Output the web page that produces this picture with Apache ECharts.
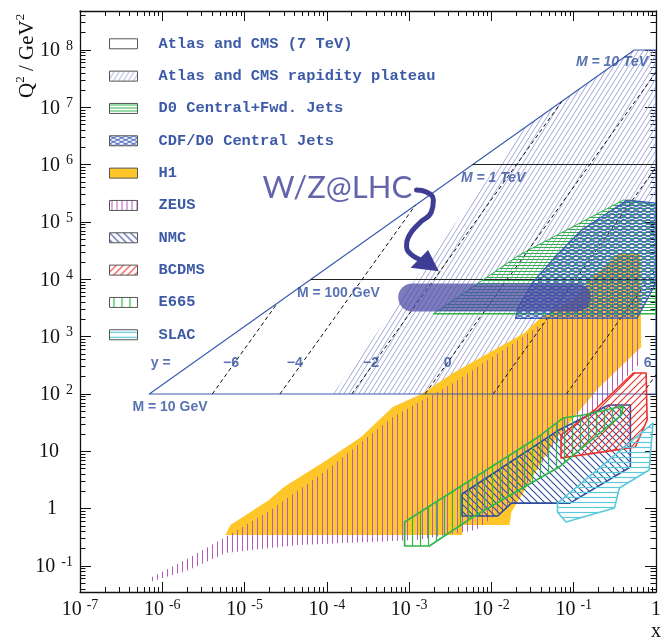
<!DOCTYPE html>
<html><head><meta charset="utf-8">
<script src="https://cdn.jsdelivr.net/npm/echarts@6/dist/echarts.min.js"></script>
<style>html,body{margin:0;padding:0;background:#fff}#c{width:664px;height:639px}</style>
</head><body><div id="c"></div>
<script>
// ---------------- data (x, Q^2 / GeV^2) ----------------
const xTicks = [1e-7, 1e-6, 1e-5, 1e-4, 1e-3, 1e-2, 1e-1, 1];
const yTicks = [1e-1, 1, 10, 1e2, 1e3, 1e4, 1e5, 1e6, 1e7, 1e8];
const xRange = [1e-7, 1];
const yRange = [0.0352, 4.79e8];

const legendNames = ['Atlas and CMS (7 TeV)', 'Atlas and CMS rapidity plateau', 'D0 Central+Fwd. Jets',
  'CDF/D0 Central Jets', 'H1', 'ZEUS', 'NMC', 'BCDMS', 'E665', 'SLAC'];

const atlasRegion = [[6.95e-7, 100], [0.544, 1e8], [1, 1e8], [1, 100]];
const plateauRegion = [[1.19e-4, 100], [0.0247, 4.29e6], [0.544, 1e8], [1, 1e8], [1, 3.25e5], [0.0175, 100]];
const massLines = [[[6.41e-5, 1e4], [1, 1e4]], [[5.9e-3, 1e6], [1, 1e6]]];
const rapidityLines = [
  [[4.05e-6, 100], [2.51e-5, 3855]],
  [[2.69e-5, 100], [1.19e-3, 1.96e5]],
  [[2.01e-4, 100], [0.0715, 1.26e7]],
  [[1.56e-3, 100], [1, 4.1e7]],
  [[0.0105, 100], [1, 9.0e5]],
  [[0.0815, 100], [1, 1.51e4]],
  [[0.679, 100], [1, 217]]
];
const d0Region = [[1.97e-3, 2480], [0.0213, 2.6e4], [0.401, 2.42e5], [1, 1.98e5], [1, 2480]];
const cdfRegion = [[1.96e-2, 2090], [2.13e-2, 3290], [3.14e-2, 8630], [5.93e-2, 24500], [0.125, 72400],
  [0.258, 1.44e5], [0.448, 2.42e5], [1, 2.14e5], [1, 8630], [0.591, 2110]];
const h1Region = [[5.86e-6, 0.347], [6.73e-6, 0.519], [1.98e-5, 1.42], [3.01e-5, 2.39], [1e-4, 7.05],
  [2.61e-4, 17.8], [6.32e-4, 59.3], [1.41e-3, 100], [3.43e-3, 232], [9.27e-3, 519], [2.51e-2, 1160],
  [3.71e-2, 1950], [0.103, 4720], [0.180, 11900], [0.359, 28800], [0.643, 28800], [0.661, 661],
  [0.201, 127], [0.0593, 15.7], [0.0175, 0.873], [0.0166, 0.519], [4.40e-3, 0.519], [4.40e-3, 0.347]];
const zeusRegion = [[7.14e-7, 0.0617], [2.10e-6, 0.138], [5.86e-6, 0.320], [1.98e-5, 0.91], [1e-4, 4.72],
  [6.32e-4, 39.6], [3.43e-3, 156], [2.51e-2, 1030], [0.103, 4360], [0.180, 10500], [0.359, 26500],
  [0.643, 26500], [0.661, 361], [0.180, 52.6], [0.0593, 12.9], [0.0196, 1.42], [6.47e-3, 0.424],
  [1.23e-3, 0.284], [4.43e-5, 0.232], [5.86e-6, 0.168], [2.10e-6, 0.0851], [7.14e-7, 0.0525]];
const nmcRegion = [[4.40e-3, 1.80], [0.0664, 23.6], [0.265, 64.3], [0.488, 64.3], [0.488, 5.32],
  [0.0899, 1.25], [0.0175, 1.25], [0.0119, 0.745], [4.40e-3, 0.745]];
const bcdmsRegion = [[0.0701, 19.3], [0.180, 52.6], [0.530, 232], [0.759, 232], [0.780, 35.2],
  [0.560, 11.9], [0.265, 10.1], [0.0701, 7.64]];
const e665Region = [[8.81e-4, 0.585], [0.0371, 17.8], [0.0741, 38.1], [0.132, 43.0], [0.401, 61.7],
  [0.379, 43.0], [0.0664, 5.32], [0.0251, 2.39], [5.96e-3, 0.715], [1.76e-3, 0.223], [8.81e-4, 0.223]];
const slacRegion = [[0.0635, 1.25], [0.920, 31.2], [0.824, 4.72], [0.359, 2.29], [0.313, 1.03],
  [0.0805, 0.585], [0.0635, 0.873]];
const wzBand = [[1.09e-3, 4820], [0.109, 4820]];
const arrowPath = [[1.23e-3, 3.61e5], [1.62e-3, 3.33e5], [1.97e-3, 2.42e5], [1.86e-3, 1.49e5],
  [1.34e-3, 9.60e4], [1.01e-3, 5.93e4], [9.31e-4, 3.66e4], [1.34e-3, 2.22e4]];
const arrowHead = [[2.30e-3, 1.38e4], [1.04e-3, 1.60e4], [1.70e-3, 3.25e4]];
const massLabelText = ['M = 10 GeV', 'M = 100 GeV', 'M = 1 TeV', 'M = 10 TeV'];
const massLabelPos = [[1.24e-6, 59.3], [1.38e-4, 5770], [1.05e-2, 5.85e5], [0.292, 6.05e7]];
const rapidityLabelText = ['y =', '\u22126', '\u22124', '\u22122', '0', '6'];
const rapidityLabelPos = [[9.55e-7, 347], [6.83e-6, 347], [4.07e-5, 347], [3.44e-4, 347], [2.94e-3, 347], [0.791, 347]];
const wzLabelText = 'W/Z@LHC';
const wzLabelPos = [1.34e-4, 3.85e5];

// ---------------- styling helpers ----------------
const serif = '"Liberation Serif", "Times New Roman", serif';
const mono = '"Liberation Mono", "DejaVu Sans Mono", monospace';
const sans = '"Liberation Sans", Arial, sans-serif';
const labelBlue = '#2f4f9f';

function hatchTile(w, h, color, lw, dirs) {
  const c = document.createElement('canvas');
  c.width = w; c.height = h;
  const g = c.getContext('2d');
  g.strokeStyle = color; g.lineWidth = lw;
  for (const d of dirs) {
    g.beginPath();
    if (d === 'h') { const y = Math.floor(h / 2) + 0.5; g.moveTo(-1, y); g.lineTo(w + 1, y); }
    if (d === 'v') { const x = Math.floor(w / 2) + 0.5; g.moveTo(x, -1); g.lineTo(x, h + 1); }
    if (d === 'down') { for (const dx of [-w, 0, w]) { g.moveTo(dx - w, -h); g.lineTo(dx + 2 * w, 2 * h); } }
    if (d === 'up') { for (const dx of [-w, 0, w]) { g.moveTo(dx - w, 2 * h); g.lineTo(dx + 2 * w, -h); } }
    g.stroke();
  }
  return { image: c, repeat: 'repeat' };
}

const pat = {
  plateau: hatchTile(5, 8, '#a3a6d8', 1, ['up']),
  d0: hatchTile(8, 3, '#33b24c', 1, ['h']),
  cdf: hatchTile(8, 4, '#3659b3', 1, ['up', 'down']),
  zeus: hatchTile(5, 8, '#b45cbe', 1, ['v']),
  nmc: hatchTile(7, 7, '#2f4c9c', 1.1, ['down']),
  bcdms: hatchTile(7, 7, '#e8322c', 1.1, ['up']),
  e665: hatchTile(8, 8, '#2fb64a', 1.2, ['v']),
  slac: hatchTile(8, 5, '#5cc8dc', 1.2, ['h'])
};
const h1Color = '#ffc629';

function regionSeries(name, points, opts, z) {
  return {
    type: 'custom', name, coordinateSystem: 'cartesian2d', xAxisIndex: 0, yAxisIndex: 0,
    data: points, z, silent: true, clip: true,
    renderItem: (params, api) => {
      if (params.dataIndex !== 0) return null;
      const pts = points.map(p => api.coord(p));
      const children = (opts.fills || []).map(f => ({ type: 'polygon', shape: { points: pts }, style: { fill: f, stroke: null } }));
      if (opts.stroke) children.push({ type: 'polygon', shape: { points: pts }, style: { fill: null, stroke: opts.stroke, lineWidth: opts.lineWidth || 1, lineJoin: 'round' } });
      return { type: 'group', children };
    }
  };
}

// minor log ticks
function minorTicks(lo, hi) {
  const out = [];
  for (let k = Math.floor(Math.log10(lo)); k <= Math.ceil(Math.log10(hi)); k++)
    for (let m = 2; m <= 9; m++) { const v = m * Math.pow(10, k); if (v > lo && v < hi) out.push(v); }
  return out;
}
const xMinor = minorTicks(xRange[0], xRange[1]);
const yMinor = minorTicks(yRange[0], yRange[1]);

const expOf = v => Math.round(Math.log10(v));
const baseAxis = (extra) => Object.assign({
  type: 'log', logBase: 10, silent: true,
  splitLine: { show: false }, axisLabel: { show: false }, axisLine: { show: false, onZero: false },
  axisTick: { show: false }
}, extra);
const frameLine = { show: true, onZero: false, lineStyle: { color: '#111', width: 1.3 } };
const tickStyle = { color: '#111', width: 1 };

const xAxes = [
  baseAxis({ min: xRange[0], max: xRange[1], position: 'bottom', axisLine: frameLine,
    axisTick: { show: true, inside: true, length: 10, customValues: xTicks, lineStyle: tickStyle },
    axisLabel: { show: true, customValues: xTicks, margin: 6, hideOverlap: false, showMinLabel: true, showMaxLabel: true,
      formatter: v => { const e = expOf(v); return e === 0 ? '{n|1}' : '{n|10}{e|' + e + '}'; },
      rich: {
        n: { fontFamily: serif, fontSize: 20, lineHeight: 22, padding: [8, 0, 0, 0], verticalAlign: 'bottom', color: '#111' },
        e: { fontFamily: serif, fontSize: 14, lineHeight: 14, verticalAlign: 'top', padding: [0, 0, 0, 5], color: '#111' }
      } } }),
  baseAxis({ min: xRange[0], max: xRange[1], position: 'bottom',
    axisTick: { show: true, inside: true, length: 5, customValues: xMinor, lineStyle: tickStyle } }),
  baseAxis({ min: xRange[0], max: xRange[1], position: 'top', axisLine: frameLine,
    axisTick: { show: true, inside: true, length: 10, customValues: xTicks, lineStyle: tickStyle } }),
  baseAxis({ min: xRange[0], max: xRange[1], position: 'top',
    axisTick: { show: true, inside: true, length: 5, customValues: xMinor, lineStyle: tickStyle } })
];
const yAxes = [
  baseAxis({ min: yRange[0], max: yRange[1], position: 'left', axisLine: frameLine,
    axisTick: { show: true, inside: true, length: 11, customValues: yTicks, lineStyle: tickStyle },
    axisLabel: { show: true, customValues: yTicks, margin: 7, hideOverlap: false, showMinLabel: true, showMaxLabel: true,
      formatter: v => { const e = expOf(v); if (e === 0) return '{p1|1}'; if (e === 1) return '{p|10}'; return '{n|10}{e|' + e + '}'; },
      rich: {
        n: { fontFamily: serif, fontSize: 20, lineHeight: 22, padding: [8, 0, 0, 0], verticalAlign: 'bottom', color: '#111' },
        e: { fontFamily: serif, fontSize: 14, lineHeight: 14, verticalAlign: 'top', padding: [0, 0, 0, 6], color: '#111' },
        p: { fontFamily: serif, fontSize: 20, lineHeight: 22, padding: [0, 14, 0, 0], color: '#111' },
        p1: { fontFamily: serif, fontSize: 20, lineHeight: 22, padding: [0, 16, 0, 0], color: '#111' }
      } } }),
  baseAxis({ min: yRange[0], max: yRange[1], position: 'left',
    axisTick: { show: true, inside: true, length: 5.5, customValues: yMinor, lineStyle: tickStyle } }),
  baseAxis({ min: yRange[0], max: yRange[1], position: 'right', axisLine: frameLine,
    axisTick: { show: true, inside: true, length: 11, customValues: yTicks, lineStyle: tickStyle } }),
  baseAxis({ min: yRange[0], max: yRange[1], position: 'right',
    axisTick: { show: true, inside: true, length: 5.5, customValues: yMinor, lineStyle: tickStyle } })
];

const legendFills = [
  '#ffffff', pat.plateau, pat.d0, pat.cdf, h1Color, pat.zeus, pat.nmc, pat.bcdms, pat.e665, pat.slac
];

const series = [
  regionSeries(legendNames[1], plateauRegion, { fills: [pat.plateau] }, 1),
  regionSeries(legendNames[4], h1Region, { fills: [h1Color] }, 3),
  regionSeries(legendNames[5], zeusRegion, { fills: [pat.zeus] }, 4),
  regionSeries(legendNames[0], atlasRegion, { stroke: '#3d5cb0', lineWidth: 1.2 }, 5),
  { type: 'lines', name: 'mass lines', coordinateSystem: 'cartesian2d', z: 5, silent: true,
    data: massLines.map(c => ({ coords: c })), lineStyle: { color: '#222', width: 1, opacity: 1 } },
  { type: 'lines', name: 'rapidity lines', coordinateSystem: 'cartesian2d', z: 5, silent: true,
    data: rapidityLines.map(c => ({ coords: c })), lineStyle: { color: '#111', width: 1, type: [4, 3], opacity: 1 } },
  regionSeries(legendNames[2], d0Region, { fills: [pat.d0], stroke: '#33b24c', lineWidth: 1 }, 6),
  regionSeries(legendNames[3], cdfRegion, { fills: [pat.cdf], stroke: '#3659b3', lineWidth: 1.2 }, 7),
  regionSeries(legendNames[6], nmcRegion, { fills: [pat.nmc], stroke: '#2f4c9c', lineWidth: 1.6 }, 8),
  regionSeries(legendNames[7], bcdmsRegion, { fills: [pat.bcdms], stroke: '#e8322c', lineWidth: 1.6 }, 8),
  regionSeries(legendNames[8], e665Region, { fills: [pat.e665], stroke: '#2fb64a', lineWidth: 1.6 }, 8),
  regionSeries(legendNames[9], slacRegion, { fills: [pat.slac], stroke: '#5cc8dc', lineWidth: 1.6 }, 8),
  { type: 'line', name: 'W/Z band', data: wzBand, z: 9, silent: true, symbol: 'none', showSymbol: false,
    lineStyle: { width: 28, color: 'rgba(72,72,165,0.72)', cap: 'round' } },
  { type: 'line', name: 'arrow', data: arrowPath, z: 10, silent: true, symbol: 'none', showSymbol: false, smooth: 0.5,
    lineStyle: { width: 5, color: '#3d3d96', cap: 'round', join: 'round' } },
  regionSeries('arrow head', arrowHead, { fills: ['#3d3d96'] }, 10),
  { type: 'scatter', name: 'mass labels', z: 11, silent: true, symbolSize: 1, itemStyle: { color: 'transparent' },
    data: massLabelPos.map((p, i) => ({ value: p, label: { formatter: massLabelText[i], fontStyle: i >= 2 ? 'italic' : 'normal' } })),
    label: { show: true, position: 'inside', fontFamily: sans, fontWeight: 'bold', fontSize: 14, color: labelBlue } },
  { type: 'scatter', name: 'rapidity labels', z: 11, silent: true, symbolSize: 1, itemStyle: { color: 'transparent' },
    data: rapidityLabelPos.map((p, i) => ({ value: p, label: { formatter: rapidityLabelText[i] } })),
    label: { show: true, position: 'inside', fontFamily: sans, fontWeight: 'bold', fontSize: 14, color: labelBlue } },
  { type: 'scatter', name: 'W/Z label', z: 11, silent: true, symbolSize: 1, itemStyle: { color: 'transparent' },
    data: [{ value: wzLabelPos, label: { formatter: wzLabelText } }],
    label: { show: true, position: 'inside', fontFamily: 'Lato, "Open Sans", sans-serif', fontSize: 31, color: '#3d3d96' } }
];

const chart = echarts.init(document.getElementById('c'), null, { renderer: 'canvas' });
chart.setOption({
  animation: false,
  backgroundColor: '#ffffff',
  grid: { left: 80, right: 3, top: 11, bottom: 47, containLabel: false },
  xAxis: xAxes,
  yAxis: yAxes,
  legend: {
    orient: 'vertical', left: 109, top: 36.3, padding: 0, itemWidth: 28, itemHeight: 10, itemGap: 17.33,
    selectedMode: false,
    formatter: n => '{t|' + n + '}',
    textStyle: { rich: { t: { fontFamily: mono, fontWeight: 'bold', fontSize: 15.4, color: '#3c5aa6', lineHeight: 12, padding: [0, 0, 0, 16] } } },
    data: legendNames.map((n, i) => ({ name: n, icon: 'rect', itemStyle: { color: legendFills[i], borderColor: '#555', borderWidth: 1 } }))
  },
  graphic: [
    { type: 'text', x: 38, y: 98, rotation: Math.PI / 2, silent: true,
      style: { text: '{a|Q}{s|2}{a| / GeV}{s|2}', align: 'left', verticalAlign: 'bottom', fill: '#111',
        rich: { a: { fontFamily: serif, fontSize: 21, lineHeight: 24, verticalAlign: 'bottom', fill: '#111' },
                s: { fontFamily: serif, fontSize: 13, lineHeight: 13, verticalAlign: 'top', fill: '#111' } } } },
    { type: 'text', x: 656, y: 632, silent: true,
      style: { text: 'x', font: '20px ' + serif, fill: '#111', align: 'center', verticalAlign: 'middle' } }
  ],
  series
});
</script></body></html>
